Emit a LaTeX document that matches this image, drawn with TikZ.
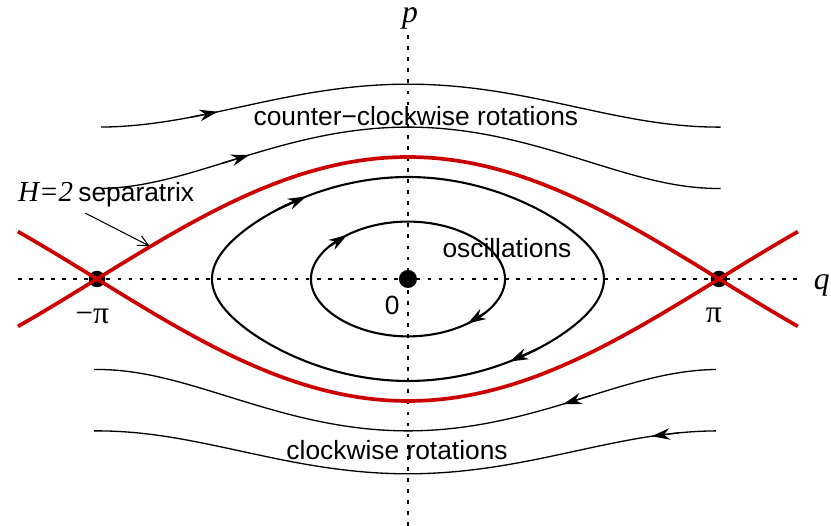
\documentclass[tikz,border=0pt]{standalone}
\usepackage{fontspec}
\setmainfont{Liberation Sans}
\newfontfamily\serif{Liberation Serif}
\usetikzlibrary{arrows.meta}
\definecolor{sepred}{RGB}{204,0,0}
\tikzset{
  axe/.style={black, line width=0.5pt, dash pattern=on 1.4pt off 2.8pt},
  orbite/.style={black, line width=0.8pt},
  rotation/.style={black, line width=0.5pt},
  separatrice/.style={sepred, line width=1.4pt},
  fleche/.style={-{Stealth[length=7pt,width=4.4pt]}},
  var/.style={font=\serif\itshape\large},
}

\begin{document}
\begin{tikzpicture}[x=1.32cm, y=0.8133cm]
  \useasboundingbox (-4.121,-4.049) rectangle (4.273,4.574);
  % Axes (en pointillés)
  \draw[axe] (-3.94,0) -- (3.96,0);
  \draw[axe] (0,-4.05) -- (0,4.08);
  \node[var] (p) at (0.02,4.28) {p};
  \node[var] (q) at (4.18,-0.1) {q};
  % Rotations (H = 5.1 et H = 3.1)
  \draw[rotation] plot[domain=-3.10:3.16, samples=120, smooth] (\x,{sqrt(2*(4.1+cos(deg(\x))))});
  \draw[rotation] plot[domain=-3.10:3.16, samples=120, smooth] (\x,{sqrt(2*(2.1+cos(deg(\x))))});
  \draw[rotation] plot[domain=-3.17:3.11, samples=120, smooth] (\x,{-sqrt(2*(2.1+cos(deg(\x))))});
  \draw[rotation] plot[domain=-3.17:3.11, samples=120, smooth] (\x,{-sqrt(2*(4.1+cos(deg(\x))))});
  \draw[rotation, fleche] plot[samples at={-2.2,-1.92}] (\x,{sqrt(2*(4.1+cos(deg(\x))))});
  \draw[rotation, fleche] plot[samples at={-1.88,-1.60}] (\x,{sqrt(2*(2.1+cos(deg(\x))))});
  \draw[rotation, fleche] plot[samples at={1.85,1.57}] (\x,{-sqrt(2*(2.1+cos(deg(\x))))});
  \draw[rotation, fleche] plot[samples at={2.74,2.46}] (\x,{-sqrt(2*(4.1+cos(deg(\x))))});
  % Oscillations (k = sin(qmax/2))
  \draw[orbite] plot[domain=0:360, samples=181] ({2*rad(asin(0.4706*sin(\x)))},{2*0.4706*cos(\x)}) -- cycle;
  \draw[orbite] plot[domain=0:360, samples=181] ({2*rad(asin(0.836*sin(\x)))},{2*0.836*cos(\x)}) -- cycle;
  \draw[orbite, fleche] plot[samples at={305,320}] ({2*rad(asin(0.4706*sin(\x)))},{2*0.4706*cos(\x)});
  \draw[orbite, fleche] plot[samples at={126,141}] ({2*rad(asin(0.4706*sin(\x)))},{2*0.4706*cos(\x)});
  \draw[orbite, fleche] plot[samples at={313,324}] ({2*rad(asin(0.836*sin(\x)))},{2*0.836*cos(\x)});
  \draw[orbite, fleche] plot[samples at={133,144}] ({2*rad(asin(0.836*sin(\x)))},{2*0.836*cos(\x)});
  % Points d'equilibre
  \fill (0,0) circle[radius=0.12cm];
  \fill (-3.1416,0) circle[radius=0.11cm];
  \fill (3.1416,0) circle[radius=0.11cm];
  % Separatrice H = 2
  \draw[separatrice] plot[domain=-3.94:3.94, samples=120, smooth] (\x,{2*cos(deg(\x/2))});
  \draw[separatrice] plot[domain=-3.94:3.94, samples=120, smooth] (\x,{-2*cos(deg(\x/2))});
  \node (zero) at (-0.16,-0.44) {0};
  \node (mpi) at (-3.19,-0.61) {\serif\large −π};
  \node (ppi) at (3.09,-0.59) {\serif\large π};
  % Etiquettes
  \node (osc) at (1.0,0.51) {oscillations};
  \node (ccw) at (0.08,2.67) {counter−clockwise rotations};
  \node (cw) at (-0.11,-2.8) {clockwise rotations};
  \node[anchor=base west, inner sep=1pt] (sep) at (-3.97,1.27) {{\serif\itshape\fontsize{11}{13}\selectfont H=2}\hspace{2pt}separatrix};
  \coordinate (sepstart) at (-3.26,1.08);
  \coordinate (septip) at (-2.61,0.54);
  \draw[line width=0.4pt, -{Straight Barb[length=4pt,width=4pt]}] (sepstart) -- (septip);
\end{tikzpicture}
\end{document}
